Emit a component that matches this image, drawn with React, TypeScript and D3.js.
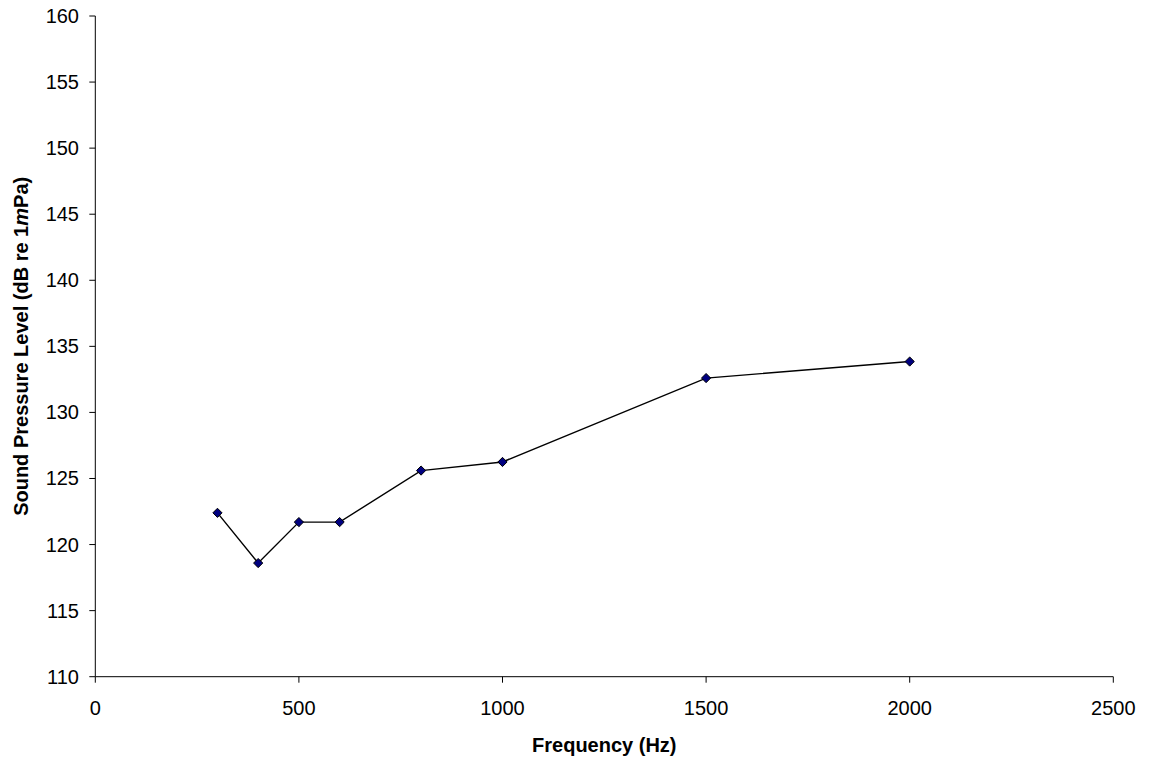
import React from "react";
import * as d3 from "d3";

const frequencies = [300, 400, 500, 600, 800, 1000, 1500, 2000];
const splValues = [122.4, 118.6, 121.7, 121.7, 125.6, 126.25, 132.6, 133.85];
const xTicks = [0, 500, 1000, 1500, 2000, 2500];
const yTicks = [110, 115, 120, 125, 130, 135, 140, 145, 150, 155, 160];

const W = 1150;
const H = 763;
const M = { left: 95.3, right: 1113.3, top: 16, bottom: 676.7 };

export default function App() {
  const x = d3.scaleLinear().domain([0, 2500]).range([M.left, M.right]);
  const y = d3.scaleLinear().domain([110, 160]).range([M.bottom, M.top]);
  const pts = frequencies.map((f, i) => [x(f), y(splValues[i])] as [number, number]);
  const line = d3.line()(pts) || "";
  const font = "Arial, 'Liberation Sans', sans-serif";
  const r = 4.6;

  return (
    <svg
      width={W}
      height={H}
      style={{ position: "absolute", left: 0, top: 0, background: "#fff" }}
      fontFamily={font}
    >
      {/* axes */}
      <line x1={M.left} x2={M.left} y1={M.top} y2={M.bottom} stroke="#000" strokeWidth={1} />
      <line x1={M.left} x2={M.right} y1={M.bottom} y2={M.bottom} stroke="#000" strokeWidth={1} />
      {yTicks.map((t) => (
        <g key={"y" + t}>
          <line x1={M.left - 6} x2={M.left} y1={y(t)} y2={y(t)} stroke="#000" />
          <text x={79} y={y(t) + 7} textAnchor="end" fontSize={20} fill="#000">
            {t}
          </text>
        </g>
      ))}
      {xTicks.map((t) => (
        <g key={"x" + t}>
          <line x1={x(t)} x2={x(t)} y1={M.bottom} y2={M.bottom + 6} stroke="#000" />
          <text x={x(t)} y={715} textAnchor="middle" fontSize={20} fill="#000">
            {t}
          </text>
        </g>
      ))}
      {/* series */}
      <path d={line} fill="none" stroke="#000" strokeWidth={1.4} />
      {pts.map(([px, py], i) => (
        <path
          key={"m" + i}
          d={`M${px},${py - r}L${px + r},${py}L${px},${py + r}L${px - r},${py}Z`}
          fill="#000080"
          stroke="#000"
          strokeWidth={1}
        />
      ))}
      {/* titles */}
      <text x={(M.left + M.right) / 2} y={751.5} textAnchor="middle" fontSize={20} fontWeight="bold" fill="#000">
        Frequency (Hz)
      </text>
      <text
        transform={`translate(28,${(M.top + M.bottom) / 2}) rotate(-90)`}
        textAnchor="middle"
        fontSize={20}
        fontWeight="bold"
        fill="#000"
      >
        Sound Pressure Level (dB re 1<tspan fontStyle="italic">m</tspan>Pa)
      </text>
    </svg>
  );
}
